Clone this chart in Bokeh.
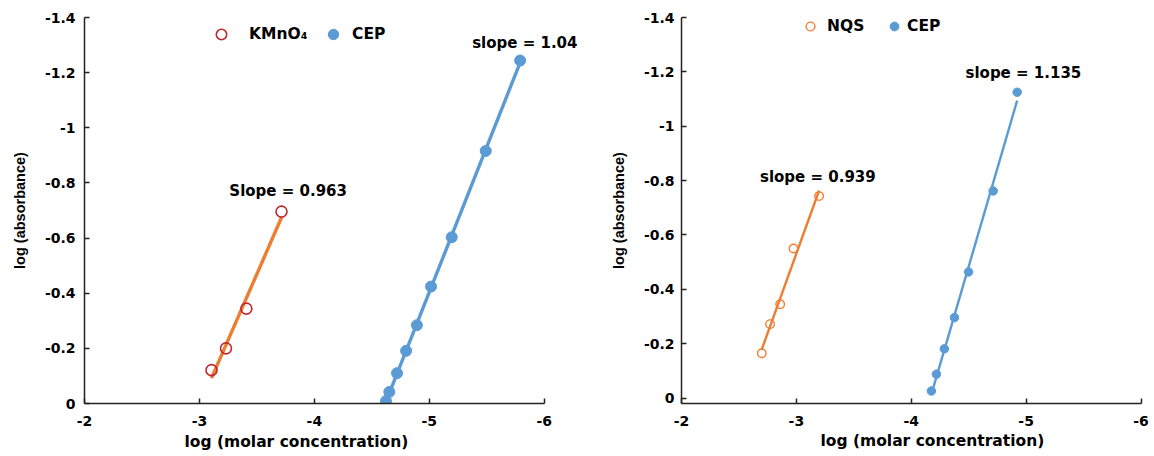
import numpy as np
from bokeh.plotting import figure
from bokeh.layouts import row
from bokeh.models import Range1d, FixedTicker, Label, Legend, LegendItem, Title
from bokeh.embed import file_html
from bokeh.resources import INLINE

# ---------------- data ----------------
x_ticks = [-2, -3, -4, -5, -6]
x_tick_labels = ["-2", "-3", "-4", "-5", "-6"]
y_ticks = [0, -0.2, -0.4, -0.6, -0.8, -1.0, -1.2, -1.4]
y_tick_labels = ["0", "-0.2", "-0.4", "-0.6", "-0.8", "-1", "-1.2", "-1.4"]

# left panel
kmno4_x = [-3.105, -3.231, -3.408, -3.714]
kmno4_y = [-0.121, -0.200, -0.344, -0.696]
cep1_x = [-4.623, -4.652, -4.719, -4.798, -4.892, -5.015, -5.195, -5.491, -5.790]
cep1_y = [-0.009, -0.042, -0.110, -0.191, -0.284, -0.424, -0.603, -0.916, -1.244]

# right panel
nqs_x = [-2.699, -2.771, -2.859, -2.975, -3.198]
nqs_y = [-0.165, -0.272, -0.345, -0.550, -0.743]
cep2_x = [-4.175, -4.219, -4.288, -4.376, -4.499, -4.713, -4.922]
cep2_y = [-0.026, -0.088, -0.181, -0.296, -0.464, -0.762, -1.125]

slope_left_texts = ["Slope = 0.963", "slope = 1.04"]
slope_right_texts = ["slope = 0.939", "slope = 1.135"]

x_title = "log (molar concentration)"
y_title = "log (absorbance)"

ORANGE = "#ED7D31"
BLUE = "#5B9BD5"
RED = "#C0282E"
AXIS = "#222222"


def fit_line(xs, ys):
    k, b = np.polyfit(xs, ys, 1)
    xe = np.array([max(xs), min(xs)])
    return xe, k * xe + b


def make_fig(width, x_end, y_start, left, right, top, bottom, ylab_standoff,
             xlab_offset, xlab_standoff):
    p = figure(width=width, height=456,
               x_range=Range1d(-2, x_end), y_range=Range1d(y_start, -1.4),
               output_backend="svg", toolbar_location=None,
               min_border_left=left, min_border_right=right,
               min_border_top=top, min_border_bottom=bottom)
    p.xgrid.visible = False
    p.ygrid.visible = False
    p.outline_line_color = None
    p.xaxis.ticker = FixedTicker(ticks=x_ticks)
    p.yaxis.ticker = FixedTicker(ticks=y_ticks)
    p.xaxis.major_label_overrides = dict(zip(x_ticks, x_tick_labels))
    p.yaxis.major_label_overrides = dict(zip(y_ticks, y_tick_labels))
    p.xaxis.bounds = (-2, -6)
    p.yaxis.axis_label = y_title
    for ax in (p.xaxis[0], p.yaxis[0]):
        ax.axis_line_color = AXIS
        ax.axis_line_width = 1.5
        ax.major_tick_line_color = AXIS
        ax.major_tick_line_width = 1.5
        ax.major_tick_in = 5
        ax.major_tick_out = 0
        ax.minor_tick_in = 0
        ax.minor_tick_out = 0
        ax.major_label_text_font = "DejaVu Sans"
        ax.major_label_text_font_style = "bold"
        ax.major_label_text_font_size = "14px"
        ax.major_label_text_color = "black"
        ax.axis_label_text_color = "black"
        ax.axis_label_text_font_style = "bold"
    p.xaxis.major_label_standoff = 12
    p.yaxis.major_label_standoff = ylab_standoff
    p.yaxis.axis_label_standoff = 14
    p.yaxis.axis_label_text_font = "Liberation Sans"
    p.yaxis.axis_label_text_font_size = "14.5px"
    # x-axis title, placed below the axis at the reference's horizontal offset
    p.add_layout(Title(text=x_title, align="left", offset=xlab_offset,
                       standoff=xlab_standoff,
                       text_font="DejaVu Sans", text_font_style="bold",
                       text_font_size="15.5px", text_color="black"), "below")
    return p


def add_legend(p, label, r, loc, glyph, standoff):
    leg = Legend(items=[LegendItem(label=label, renderers=[r])],
                 location=loc, orientation="horizontal",
                 glyph_width=glyph, glyph_height=glyph, label_height=glyph,
                 label_standoff=standoff, padding=0, margin=0, spacing=0,
                 border_line_color=None, background_fill_alpha=0,
                 label_text_font="DejaVu Sans", label_text_font_style="bold",
                 label_text_font_size="15.5px", label_text_color="black")
    p.add_layout(leg)


def add_text(p, x, y, t):
    p.add_layout(Label(x=x, y=y, text=t, text_align="center", text_baseline="middle",
                       text_font="DejaVu Sans", text_font_style="bold",
                       text_font_size="15px", text_color="black"))


# ---------------- left panel ----------------
p1 = make_fig(590, -6.35, 0, 84, 6, 17, 50, 9, 100, 5)
lx, ly = fit_line(kmno4_x, kmno4_y)
p1.line(lx, ly, line_color=ORANGE, line_width=3.4)
lx, ly = fit_line(cep1_x, cep1_y)
p1.line(lx, ly, line_color=BLUE, line_width=3.4)
r_k = p1.scatter(kmno4_x, kmno4_y, marker="circle", size=11, fill_color=None,
                 line_color=RED, line_width=1.6)
r_c1 = p1.scatter(cep1_x, cep1_y, marker="circle", size=11, fill_color=BLUE,
                  line_color=BLUE)
add_legend(p1, "KMnO₄", r_k, (124, 356), 26, 15)
add_legend(p1, "CEP", r_c1, (236, 356), 26, 6)
add_text(p1, -3.772, -0.769, slope_left_texts[0])
add_text(p1, -5.831, -1.309, slope_left_texts[1])

# ---------------- right panel ----------------
p2 = make_fig(564, -6.1, 0.02, 91, 2, 9, 53, 7, 139, 2)
lx, ly = fit_line(nqs_x, nqs_y)
p2.line(lx, ly, line_color=ORANGE, line_width=2.4)
lx, ly = fit_line(cep2_x, cep2_y)
p2.line(lx, ly, line_color=BLUE, line_width=2.4)
r_n = p2.scatter(nqs_x, nqs_y, marker="circle", size=8.5, fill_color=None,
                 line_color=ORANGE, line_width=1.4)
r_c2 = p2.scatter(cep2_x, cep2_y, marker="circle", size=8.5, fill_color=BLUE,
                  line_color=BLUE)
add_legend(p2, "NQS", r_n, (118, 366), 22, 6)
add_legend(p2, "CEP", r_c2, (202, 366), 22, 2)
add_text(p2, -3.187, -0.815, slope_right_texts[0])
add_text(p2, -4.976, -1.197, slope_right_texts[1])

layout = row(p1, p2)
open("out.html", "w").write(file_html(layout, INLINE))
